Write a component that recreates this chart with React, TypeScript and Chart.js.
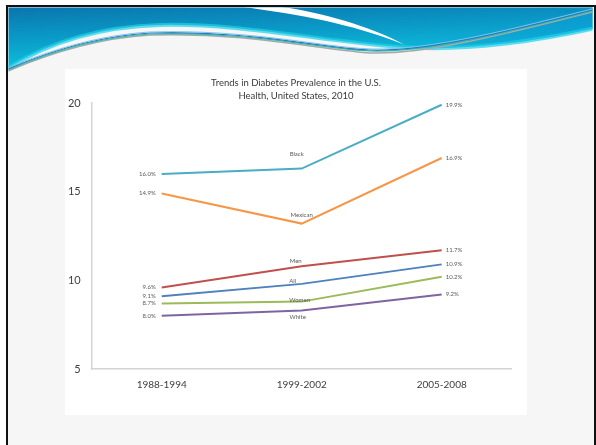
import React, { useEffect, useRef } from "react";
import { Chart, registerables } from "chart.js";

Chart.register(...registerables);

// Survey periods and age-adjusted diabetes prevalence (%) per group
const periods = ["1988-1994", "1999-2002", "2005-2008"];
const seriesNames = ["Black", "Mexican", "Men", "All", "Women", "White"];
const black = [16.0, 16.3, 19.9];
const mexican = [14.9, 13.2, 16.9];
const men = [9.6, 10.8, 11.7];
const allAdults = [9.1, 9.8, 10.9];
const women = [8.7, 8.8, 10.2];
const white = [8.0, 8.3, 9.2];
const yTicks = [5, 10, 15, 20];
const titleLines = ["Trends in Diabetes Prevalence in the U.S.", "Health, United States, 2010"];

const seriesValues = [black, mexican, men, allAdults, women, white];
const seriesColors = ["#4bacc6", "#f79646", "#c0504d", "#4f81bd", "#9bbb59", "#8064a2"];
// where each series name sits relative to its middle point
const nameOffsets = [
  [-5, -15],
  [0, -9],
  [-6, -5],
  [-9, -3],
  [-2, -2],
  [-4, 7],
];

const FONT = "Lato, 'Open Sans', sans-serif";

const lineLabels = {
  id: "lineLabels",
  afterDatasetsDraw(chart: any) {
    const ctx = chart.ctx as CanvasRenderingContext2D;
    ctx.save();
    ctx.font = `6px ${FONT}`;
    ctx.fillStyle = "#595959";
    ctx.textBaseline = "middle";
    chart.data.datasets.forEach((ds: any, i: number) => {
      const pts = chart.getDatasetMeta(i).data;
      const vals = ds.data as number[];
      const n = pts.length;
      ctx.textAlign = "right";
      ctx.fillText(`${vals[0].toFixed(1)}%`, pts[0].x - 6, pts[0].y);
      ctx.textAlign = "left";
      ctx.fillText(`${vals[n - 1].toFixed(1)}%`, pts[n - 1].x + 4, pts[n - 1].y);
      ctx.textAlign = "center";
      const off = nameOffsets[i];
      ctx.fillText(ds.label, pts[1].x + off[0], pts[1].y + off[1]);
    });
    // two-line heading centred over the whole canvas
    ctx.font = `9.5px ${FONT}`;
    ctx.fillStyle = "#3a3a3a";
    ctx.textAlign = "center";
    titleLines.forEach((t, k) => ctx.fillText(t, chart.width / 2, 14 + k * 13));
    ctx.restore();
  },
};

export default function App() {
  const canvasRef = useRef<HTMLCanvasElement>(null);

  useEffect(() => {
    const chart = new Chart(canvasRef.current!, {
      type: "line",
      data: {
        labels: periods,
        datasets: seriesNames.map((name, i) => ({
          label: name,
          data: seriesValues[i],
          borderColor: seriesColors[i],
          backgroundColor: seriesColors[i],
          borderWidth: 2,
          pointRadius: 0,
          tension: 0,
          fill: false,
        })),
      },
      options: {
        animation: false,
        responsive: true,
        maintainAspectRatio: false,
        layout: { padding: { top: 34, left: 0, right: 15.3, bottom: 16 } },
        plugins: {
          legend: { display: false },
          title: { display: false },
          tooltip: { enabled: false },
        },
        scales: {
          x: {
            offset: true,
            grid: { display: false, drawTicks: false },
            border: { display: true, color: "#d4d4d4", width: 1.5 },
            ticks: { color: "#404040", font: { family: FONT, size: 10 }, padding: 10 },
            afterFit: (axis: any) => {
              axis.height = 30;
            },
          },
          y: {
            min: 5,
            max: 20,
            grid: { display: false, drawTicks: false },
            border: { display: true, color: "#d4d4d4", width: 1.5 },
            ticks: { color: "#404040", font: { family: FONT, size: 11 }, padding: 11 },
            afterBuildTicks: (axis: any) => {
              axis.ticks = yTicks.map((v) => ({ value: v }));
            },
            afterFit: (axis: any) => {
              axis.width = 26.7;
            },
          },
        },
      },
      plugins: [lineLabels],
    });
    return () => chart.destroy();
  }, []);

  return (
    <div
      style={{
        position: "fixed",
        left: 0,
        top: 0,
        width: 596,
        height: 445,
        background: "#ffffff",
        overflow: "hidden",
      }}
    >
      <div
        style={{
          position: "absolute",
          left: 6,
          top: 5,
          width: 590,
          height: 470,
          boxSizing: "border-box",
          borderLeft: "2.5px solid #111",
          borderTop: "2.5px solid #111",
          borderRight: "2.5px solid #111",
          background: "#f6f6f6",
        }}
      />
      <svg
        width={596}
        height={445}
        style={{ position: "absolute", left: 0, top: 0 }}
      >
        <defs>
          <linearGradient id="band" x1="0" y1="0" x2="0.3" y2="1">
            <stop offset="0" stopColor="#0a6da8" />
            <stop offset="0.55" stopColor="#0a9cc8" />
            <stop offset="1" stopColor="#10c4e0" />
          </linearGradient>
          <linearGradient id="bandRight" x1="0" y1="0" x2="1" y2="0">
            <stop offset="0" stopColor="#0a9fd8" stopOpacity="0" />
            <stop offset="1" stopColor="#0a9fd8" stopOpacity="0.6" />
          </linearGradient>
          <clipPath id="frame">
            <rect x={8.5} y={7.5} width={584} height={440} />
          </clipPath>
        </defs>
        <g clipPath="url(#frame)">
          <path
            d="M0,0 H596 V28 C540,40 470,52 400,47 C320,41 240,23 160,25 C90,27 40,48 8,68 Z"
            fill="url(#band)"
          />
          <path
            d="M380,0 H596 V28 C540,40 470,52 400,47 C460,40 520,20 596,10 Z"
            fill="url(#bandRight)"
          />
          <path
            d="M8,68 C40,48 90,27 160,25 C240,23 320,41 400,47 C470,52 540,40 596,28"
            fill="none"
            stroke="#20d0e8"
            strokeWidth={4}
            opacity={0.7}
          />
          <path d="M243,7 C300,14 360,26 405,45 C370,26 320,12 282,7 Z" fill="#ffffff" />
          <path
            d="M8,71 C50,53 100,38 150,35 C250,32 320,50 370,53 C430,55 520,30 596,11"
            fill="none"
            stroke="#a8a8a8"
            strokeWidth={1.5}
          />
          <path
            d="M8,70 C50,52 100,37 150,34 C250,31 320,49 370,51 C430,53 520,29 596,10"
            fill="none"
            stroke="#30c0a0"
            strokeWidth={1.2}
          />
          <path
            d="M8,69 C50,51 100,36 150,33 C250,30 320,48 370,50 C430,52 520,28 596,9"
            fill="none"
            stroke="#2a78c8"
            strokeWidth={1.2}
          />
          <path
            d="M8,68 C50,50 100,35 150,32 C250,29 320,47 370,49 C430,51 520,27 596,8"
            fill="none"
            stroke="#7cc4e8"
            strokeWidth={1}
          />
        </g>
      </svg>
      <div
        style={{
          position: "absolute",
          left: 65,
          top: 69,
          width: 462,
          height: 346,
          background: "#ffffff",
        }}
      >
        <canvas ref={canvasRef} />
      </div>
    </div>
  );
}
